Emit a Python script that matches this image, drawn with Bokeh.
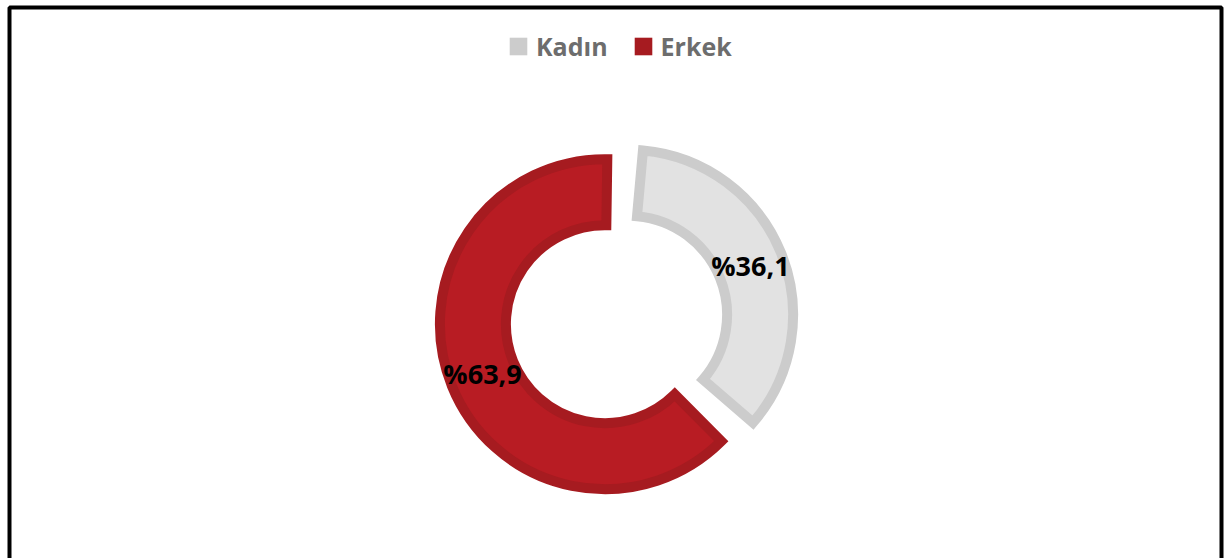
import math
from bokeh.plotting import figure
from bokeh.models import Range1d, Legend, LegendItem, BoxAnnotation, ColumnDataSource
from bokeh.core.properties import value
from bokeh.embed import file_html
from bokeh.resources import INLINE

# ---- data ----
categories = ["Kadın", "Erkek"]
shares = [36.1, 63.9]
value_labels = ["%36,1", "%63,9"]
fill_colors = ["#E2E2E2", "#B81C23"]
border_colors = ["#CCCCCC", "#A61B20"]

# ---- layout constants ----
W, H = 1224, 558
CX, CY = 616, 239          # donut centre (data units = px)
R_OUT, R_IN = 170, 94
BORDER = 10
EXPLODE = 12.5
FIRST_ANGLE = 3.0          # degrees clockwise from 12 o'clock

p = figure(width=W, height=H, x_range=Range1d(0, W), y_range=Range1d(0, H),
           output_backend="svg", toolbar_location=None, min_border=0,
           x_axis_location=None, y_axis_location=None)
p.grid.visible = False
p.outline_line_color = None
p.background_fill_color = "white"
p.border_fill_color = "white"

total = sum(shares)
rho_mid = (R_OUT + R_IN) / 2
shrink = math.degrees(math.asin((BORDER / 2) / rho_mid))

xs, ys, starts, ends, lx, ly = [], [], [], [], [], []
acc = FIRST_ANGLE
for s in shares:
    a0 = acc
    a1 = acc + s / total * 360.0
    mid = math.radians((a0 + a1) / 2)
    ox = CX + EXPLODE * math.sin(mid)
    oy = CY + EXPLODE * math.cos(mid)
    xs.append(ox)
    ys.append(oy)
    starts.append(math.radians(90 - (a0 + shrink)))
    ends.append(math.radians(90 - (a1 - shrink)))
    lx.append(ox + rho_mid * math.sin(mid))
    ly.append(oy + rho_mid * math.cos(mid))
    acc = a1

src = ColumnDataSource(dict(x=xs, y=ys, start=starts, end=ends,
                            fill=fill_colors, line=border_colors,
                            cat=categories, lab=value_labels, lx=lx, ly=ly))

p.annular_wedge(x="x", y="y", inner_radius=R_IN + BORDER / 2, outer_radius=R_OUT - BORDER / 2,
                start_angle="start", end_angle="end", direction="clock",
                fill_color="fill", line_color="line", line_width=BORDER,
                line_join="miter", source=src)

p.text(x="lx", y="ly", text="lab", source=src, text_align="center",
       text_baseline="middle", text_font=value("Open Sans"), text_font_style="bold",
       text_font_size="27px", text_color="black")

# legend (proxy renderers with no visible geometry)
nan = float("nan")
items = []
for c, col in zip(categories, border_colors):
    r = p.quad(left=[nan], right=[nan], top=[nan], bottom=[nan], fill_color=col, line_color=None)
    items.append(LegendItem(label=c, renderers=[r]))

legend = Legend(items=items, orientation="horizontal", location=(507, 495),
                glyph_width=22, glyph_height=22, label_standoff=7, spacing=24,
                padding=0, margin=0, border_line_color=None, background_fill_alpha=0,
                label_text_font="Open Sans", label_text_font_style="bold",
                label_text_font_size="25px", label_text_color="#6D6D6D")
p.add_layout(legend)

# chart border
p.add_layout(BoxAnnotation(left=9, right=1221, top=551, bottom=-50,
                           fill_alpha=0, line_color="black", line_alpha=1.0, line_width=4))

open("out.html", "w").write(file_html(p, INLINE))
